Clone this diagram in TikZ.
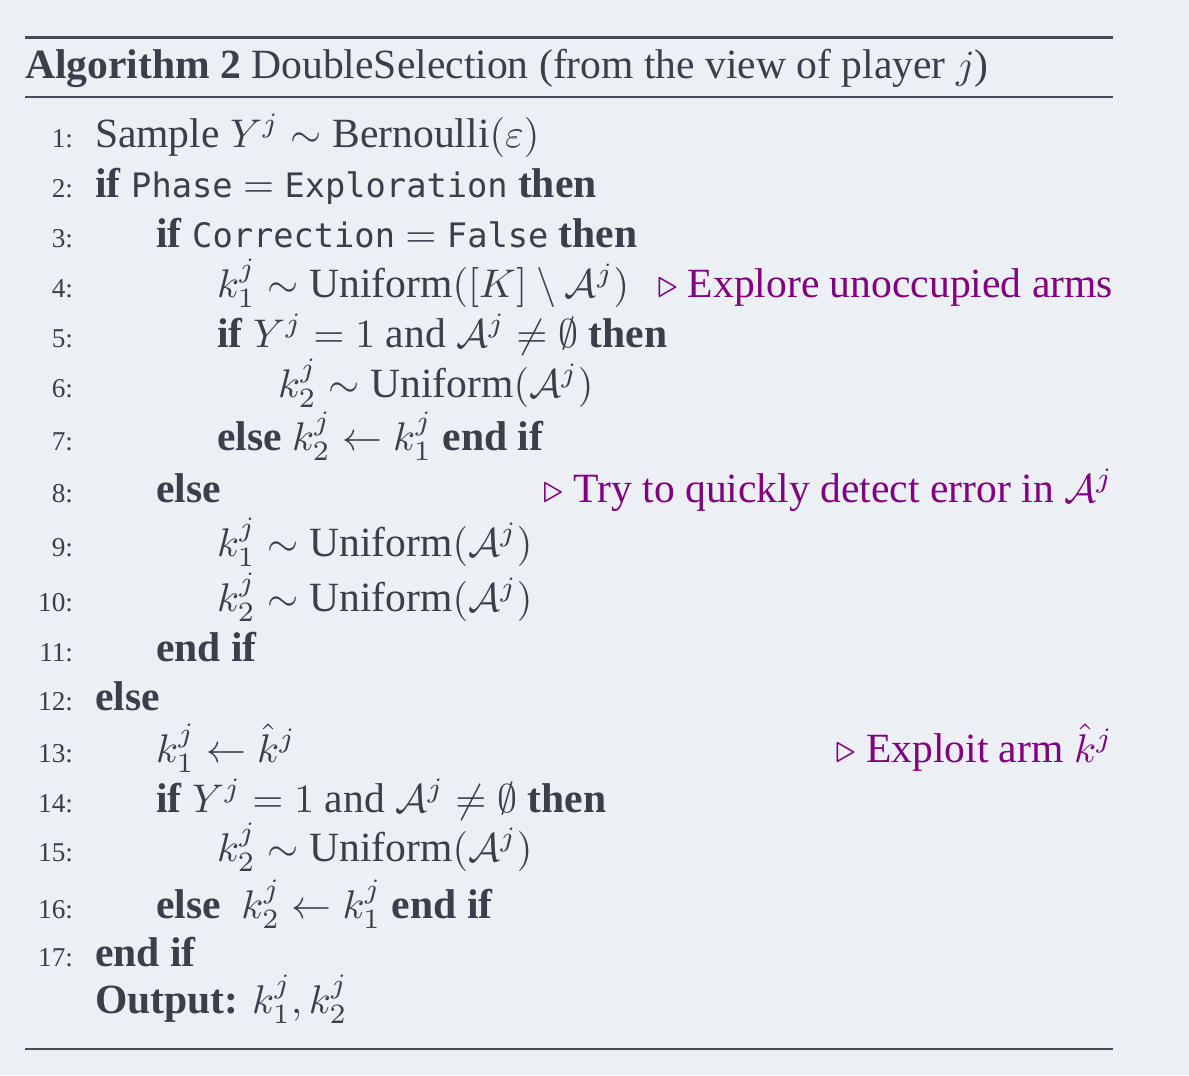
\documentclass[tikz,border=0pt]{standalone}
\usepackage{amsmath,amssymb}
\usepackage{fontspec}
\setmainfont{Liberation Serif}
\newfontfamily\codefont{DejaVu Sans Mono}[Scale=0.81]
\definecolor{bg}{HTML}{ECEFF4}
\definecolor{ink}{HTML}{3B3E4B}
\definecolor{rulec}{HTML}{474B57}
\definecolor{cmt}{HTML}{800080}
\begin{document}
\begin{tikzpicture}[x=0.25pt,y=-0.25pt,
  every node/.style={inner sep=0pt,outer sep=0pt,text=ink},
  lnum/.style={anchor=base east,font=\fontsize{6.8}{8}\selectfont},
  txt/.style={anchor=base west,font=\fontsize{10.4}{12}\selectfont},
  cmnt/.style={anchor=base east,font=\fontsize{10.4}{12}\selectfont,text=cmt},
  rulethick/.style={draw=rulec,line width=0.75pt},
  rulethin/.style={draw=rulec,line width=0.4pt}]
\fill[bg] (0,0) rectangle (1189,1075);
\useasboundingbox (0,0) rectangle (1189,1075);
% rules
\draw[rulethick] (25,37) -- (1113,37);
\draw[rulethin] (25,97) -- (1113,97);
\draw[rulethin] (25,1049) -- (1113,1049);
% title
\node[txt] (title) at (25,78) {\textbf{Algorithm 2} DoubleSelection (from the view of player \(j\))};
% line numbers
\foreach \n/\y in {1/147,2/197,3/247,4/297,5/347,6/397,7/450,8/502,9/556,10/611,11/661,12/710,13/762,14/812,15/861,16/918,17/966}
  \node[lnum] (n\n) at (73,\y) {\n:};
% lines
\node[txt] (l1) at (95,147) {Sample \(Y^j\sim\mathrm{Bernoulli}(\varepsilon)\)};
\node[txt] (l2) at (95,197) {\textbf{if} {\codefont Phase} \(=\) {\codefont Exploration} \textbf{then}};
\node[txt] (l3) at (156,247) {\textbf{if} {\codefont Correction} \(=\) {\codefont False} \textbf{then}};
\node[txt] (l4) at (217,297) {\(k_1^j\sim\mathrm{Uniform}([K]\setminus\mathcal{A}^j)\)};
\node[cmnt] (c4) at (1113,297) {\(\triangleright\) Explore unoccupied arms};
\node[txt] (l5) at (217,347) {\textbf{if} \(Y^j=1\) and \(\mathcal{A}^j\neq\emptyset\) \textbf{then}};
\node[txt] (l6) at (278,397) {\(k_2^j\sim\mathrm{Uniform}(\mathcal{A}^j)\)};
\node[txt] (l7) at (217,450) {\textbf{else} \(k_2^j\gets k_1^j\) \textbf{end if}};
\node[txt] (l8) at (156,502) {\textbf{else}};
\node[cmnt] (c8) at (1113,502) {\(\triangleright\) Try to quickly detect error in \(\mathcal{A}^j\)};
\node[txt] (l9) at (217,556) {\(k_1^j\sim\mathrm{Uniform}(\mathcal{A}^j)\)};
\node[txt] (l10) at (217,611) {\(k_2^j\sim\mathrm{Uniform}(\mathcal{A}^j)\)};
\node[txt] (l11) at (156,661) {\textbf{end if}};
\node[txt] (l12) at (95,710) {\textbf{else}};
\node[txt] (l13) at (156,762) {\(k_1^j\gets\hat{k}^j\)};
\node[cmnt] (c13) at (1113,762) {\(\triangleright\) Exploit arm \(\hat{k}^j\)};
\node[txt] (l14) at (156,812) {\textbf{if} \(Y^j=1\) and \(\mathcal{A}^j\neq\emptyset\) \textbf{then}};
\node[txt] (l15) at (217,861) {\(k_2^j\sim\mathrm{Uniform}(\mathcal{A}^j)\)};
\node[txt] (l16) at (156,918) {\textbf{else}\ \ \(k_2^j\gets k_1^j\) \textbf{end if}};
\node[txt] (l17) at (95,966) {\textbf{end if}};
\node[txt] (l18) at (95,1013) {\textbf{Output:} \(k_1^j,k_2^j\)};
\end{tikzpicture}
\end{document}
